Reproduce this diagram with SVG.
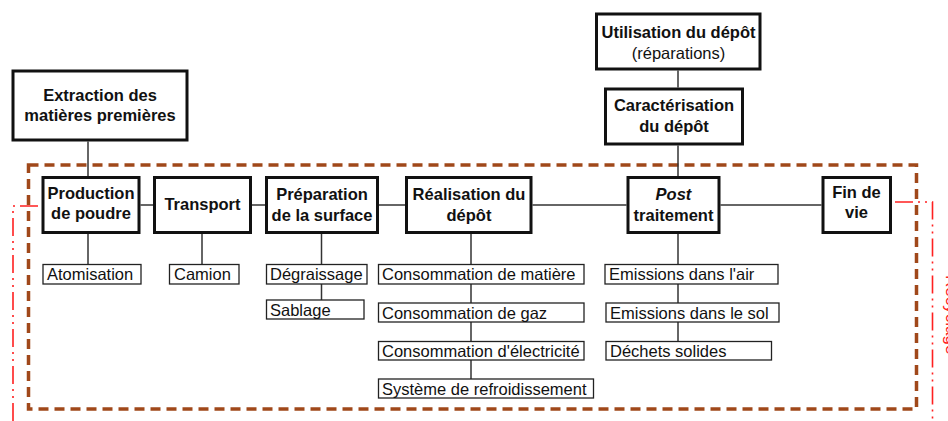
<svg xmlns="http://www.w3.org/2000/svg" width="948" height="421" viewBox="0 0 948 421">
<style>
.bg{fill:#fff}
.box{fill:#fff;stroke:#111;stroke-width:3}
.sub{fill:#fff;stroke:#222;stroke-width:1.3}
.b{font-family:"Liberation Sans",Arial,sans-serif;font-size:16.5px;font-weight:bold;fill:#111;text-anchor:middle}
.n{font-family:"Liberation Sans",Arial,sans-serif;font-size:16.5px;fill:#111}
.nc{text-anchor:middle}
.conn line{stroke:#333;stroke-width:1.5}
.zone{fill:none;stroke:#A0481A;stroke-width:3.5;stroke-dasharray:10 6}
.red{fill:none;stroke:#FF2020;stroke-width:1.6;stroke-dasharray:18 5 2 5 2 5}
</style>
<rect class="bg" x="0" y="0" width="948" height="421"/>
<rect class="zone" x="28.5" y="165" width="888" height="244"/>
<g id="recyclage">
<polyline class="red" points="13,421 13,206 41.5,206"/>
<polyline class="red" points="895,202 932.5,202 932.5,421"/>
<text class="n" style="fill:#FF2020;font-size:17px" transform="translate(945.5,275) rotate(90)">Recyclage</text>
</g>
<g id="connectors" class="conn">
<line x1="88" y1="141.5" x2="88" y2="176"/>
<line x1="678" y1="70.5" x2="678" y2="87.5"/>
<line x1="678" y1="145.5" x2="678" y2="176.5"/>
<line x1="140.5" y1="205" x2="153" y2="205"/>
<line x1="252" y1="205" x2="265" y2="205"/>
<line x1="379" y1="205" x2="405" y2="205"/>
<line x1="532.5" y1="205" x2="626.5" y2="205"/>
<line x1="720.5" y1="205" x2="821.5" y2="205"/>
<line x1="88" y1="234" x2="88" y2="264.5"/>
<line x1="202" y1="234" x2="202" y2="264.5"/>
<line x1="321.5" y1="234" x2="321.5" y2="264.5"/>
<line x1="321.5" y1="284" x2="321.5" y2="300"/>
<line x1="471" y1="234" x2="471" y2="264.5"/>
<line x1="471" y1="284" x2="471" y2="303"/>
<line x1="471" y1="322" x2="471" y2="341.5"/>
<line x1="471" y1="360" x2="471" y2="379"/>
<line x1="678" y1="234" x2="678" y2="264.5"/>
<line x1="678" y1="284" x2="678" y2="303"/>
<line x1="678" y1="322" x2="678" y2="341.5"/>
</g>
<g id="extraction"><rect class="box" x="13" y="71" width="174" height="69"/><text class="b" x="100" y="100.5">Extraction des</text><text class="b" x="100" y="121">matières premières</text></g>
<g id="utilisation"><rect class="box" x="596.5" y="14" width="163.5" h="55" height="55"/><text class="b" x="678.5" y="37.5">Utilisation du dépôt</text><text class="n nc" x="678.5" y="59">(réparations)</text></g>
<g id="caracterisation"><rect class="box" x="605.5" y="89" width="137" height="55"/><text class="b" x="674" y="111">Caractérisation</text><text class="b" x="674" y="131.5">du dépôt</text></g>
<g id="production"><rect class="box" x="43" y="177.5" width="96" height="55"/><text class="b" x="91" y="198.5">Production</text><text class="b" x="91" y="219">de poudre</text></g>
<g id="transport"><rect class="box" x="154.5" y="177.5" width="96" height="55"/><text class="b" x="202.5" y="210">Transport</text></g>
<g id="preparation"><rect class="box" x="266.5" y="177.5" width="111" height="55"/><text class="b" x="322" y="200">Préparation</text><text class="b" x="322" y="221">de la surface</text></g>
<g id="realisation"><rect class="box" x="406.5" y="177.5" width="124.5" height="55"/><text class="b" x="469" y="200">Réalisation du</text><text class="b" x="469" y="221">dépôt</text></g>
<g id="post"><rect class="box" x="628" y="177.5" width="91" height="55"/><text class="b" x="673.5" y="200" font-style="italic">Post</text><text class="b" x="673.5" y="221">traitement</text></g>
<g id="findevie"><rect class="box" x="823" y="177.5" width="67.5" height="55"/><text class="b" x="856.5" y="198">Fin de</text><text class="b" x="856.5" y="218">vie</text></g>
<g id="atomisation"><rect class="sub" x="43" y="264.5" width="98" height="19.5"/><text class="n" x="47" y="280">Atomisation</text></g>
<g id="camion"><rect class="sub" x="169.5" y="264.5" width="69.5" height="19.5"/><text class="n" x="174" y="280">Camion</text></g>
<g id="degraissage"><rect class="sub" x="266.5" y="264.5" width="100.5" height="19.5"/><text class="n" x="270" y="280">Dégraissage</text></g>
<g id="sablage"><rect class="sub" x="266.5" y="300" width="97.5" height="19"/><text class="n" x="270" y="315.5">Sablage</text></g>
<g id="matiere"><rect class="sub" x="378.5" y="264.5" width="205.5" height="19.5"/><text class="n" x="382" y="280">Consommation de matière</text></g>
<g id="gaz"><rect class="sub" x="378.5" y="303" width="205.5" height="19"/><text class="n" x="382" y="318.5">Consommation de gaz</text></g>
<g id="electricite"><rect class="sub" x="378.5" y="341.5" width="205.5" height="18.5"/><text class="n" x="382" y="356.5">Consommation d'électricité</text></g>
<g id="refroidissement"><rect class="sub" x="378.5" y="379" width="215" height="19"/><text class="n" x="382" y="394.5">Système de refroidissement</text></g>
<g id="air"><rect class="sub" x="605" y="264.5" width="173" height="19.5"/><text class="n" x="609" y="280">Emissions dans l'air</text></g>
<g id="sol"><rect class="sub" x="606" y="303" width="173" height="19"/><text class="n" x="610" y="318.5">Emissions dans le sol</text></g>
<g id="dechets"><rect class="sub" x="606" y="341.5" width="165.5" height="18.5"/><text class="n" x="610" y="356.5">Déchets solides</text></g>
</svg>
